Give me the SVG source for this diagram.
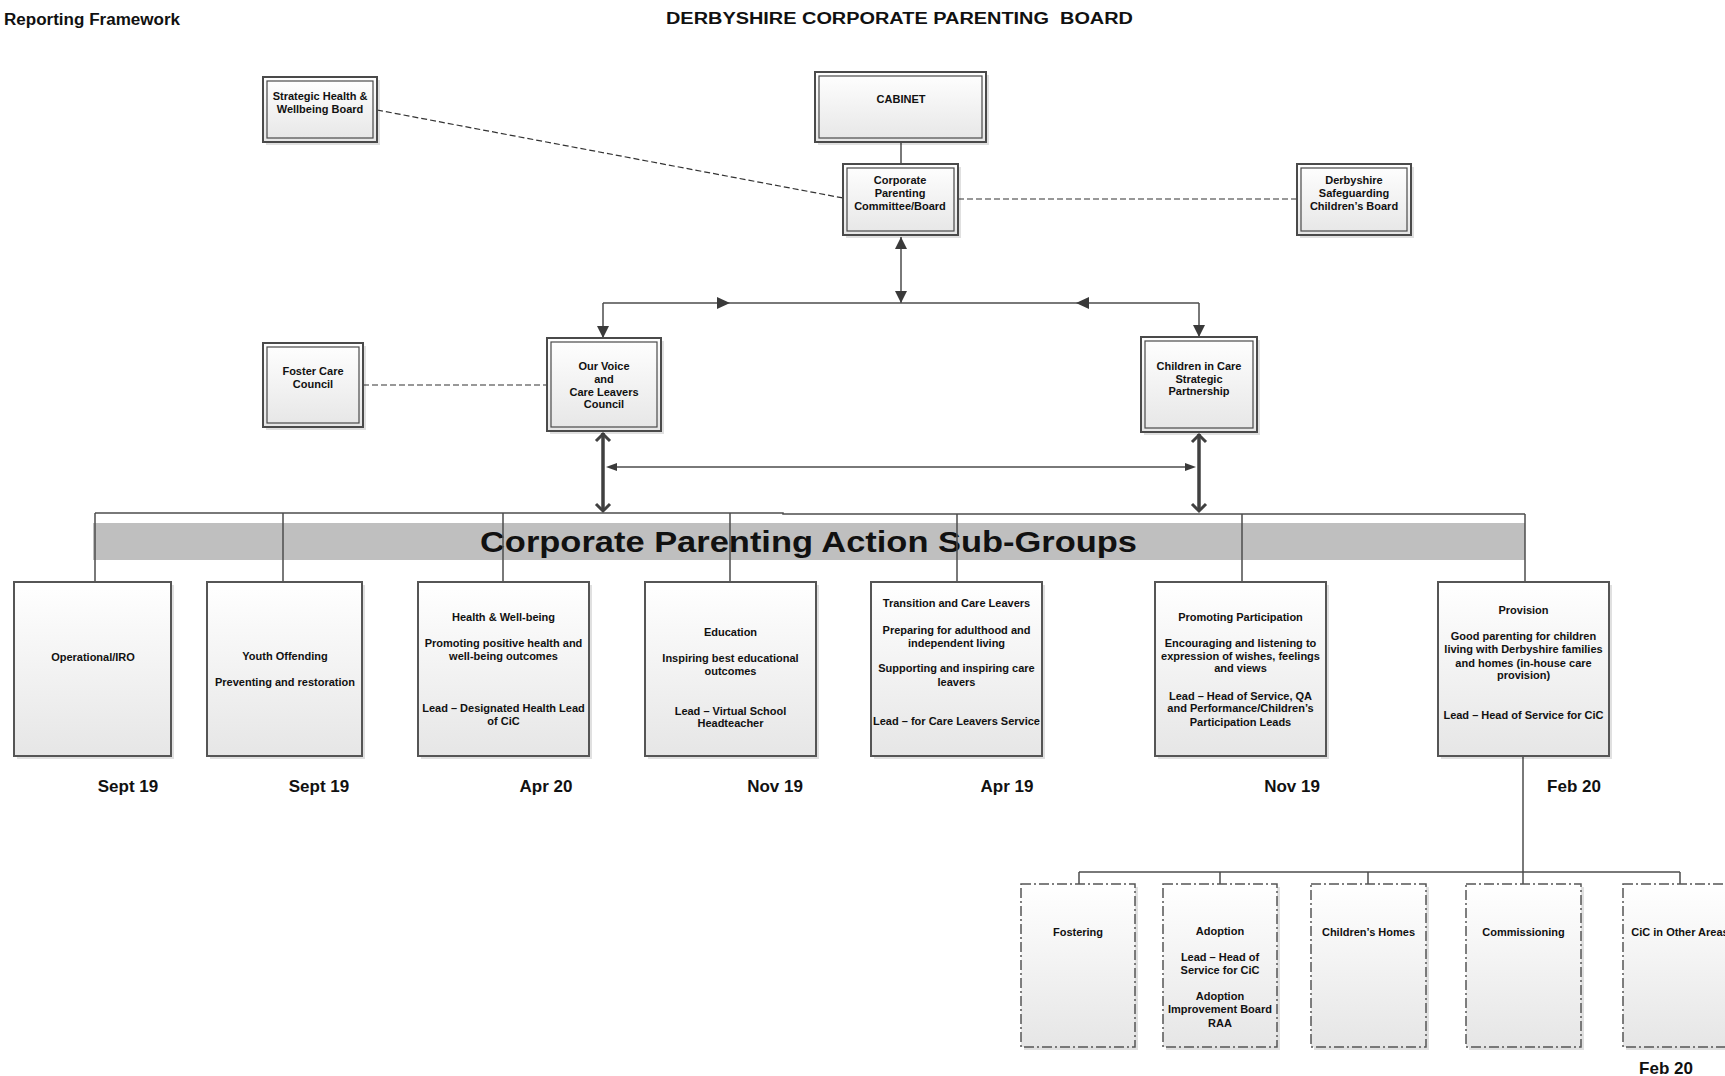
<svg xmlns="http://www.w3.org/2000/svg" width="1725" height="1076" viewBox="0 0 1725 1076">
<style>
.bg{fill:#fff}
.box{fill:url(#grad);stroke:#4a4a4a;stroke-width:2}
.inner{fill:none;stroke:#4a4a4a;stroke-width:1.2}
.shadow{fill:#000;opacity:.12}
.sub{fill:url(#grad);stroke:#555;stroke-width:2}
.dd{fill:url(#grad);stroke:#555;stroke-width:1.5;stroke-dasharray:10 3 2 3}
.t{font-family:"Liberation Sans",Arial,sans-serif;font-weight:bold;font-size:11px;fill:#111;text-anchor:middle}
.date{font-family:"Liberation Sans",Arial,sans-serif;font-weight:bold;font-size:17px;fill:#111;text-anchor:middle}
.hdr{font-family:"Liberation Sans",Arial,sans-serif;font-weight:bold;fill:#111}
.line{stroke:#4d4d4d;stroke-width:1.5;fill:none}
.dash{stroke:#333;stroke-width:1.2;stroke-dasharray:6 3;fill:none}
.thick{stroke:#404040;stroke-width:3.5;fill:none}
.chev{stroke:#404040;stroke-width:3;fill:none;stroke-linejoin:miter}
.ah{fill:#3a3a3a}
</style>
<defs>
<linearGradient id="grad" x1="0" y1="0" x2="0" y2="1">
<stop offset="0" stop-color="#ffffff"/>
<stop offset="1" stop-color="#e6e6e6"/>
</linearGradient>
<marker id="tri" viewBox="0 0 12 12" refX="12" refY="6" markerWidth="12" markerHeight="12" markerUnits="userSpaceOnUse" orient="auto">
<path d="M0,0 L12,6 L0,12 z" fill="#3a3a3a"/>
</marker>
<marker id="triS" viewBox="0 0 12 12" refX="0" refY="6" markerWidth="12" markerHeight="12" markerUnits="userSpaceOnUse" orient="auto">
<path d="M12,0 L0,6 L12,12 z" fill="#3a3a3a"/>
</marker>
</defs>
<rect class="bg" x="0" y="0" width="1725" height="1076"/>

<g id="headers">
<text class="hdr" x="4" y="25" font-size="16" textLength="176" lengthAdjust="spacingAndGlyphs">Reporting Framework</text>
<text class="hdr" x="666" y="24" font-size="16" textLength="467" lengthAdjust="spacingAndGlyphs">DERBYSHIRE CORPORATE PARENTING&#160; BOARD</text>
</g>

<g id="banner">
<rect x="93" y="523" width="1432" height="37" fill="#bfbfbf"/>
<text class="hdr" x="480" y="552" font-size="29" textLength="657" lengthAdjust="spacingAndGlyphs">Corporate Parenting Action Sub-Groups</text>
</g>

<g id="connectors">
<line class="dash" x1="377" y1="110" x2="843" y2="198"/>
<line class="dash" x1="958" y1="199" x2="1297" y2="199"/>
<line class="dash" x1="363" y1="385" x2="547" y2="385"/>
<line class="line" x1="901" y1="142" x2="901" y2="164"/>
<line class="line" x1="901" y1="237" x2="901" y2="303" marker-start="url(#triS)" marker-end="url(#tri)"/>
<line class="line" x1="603" y1="303" x2="1199" y2="303"/>
<polygon class="ah" points="717,297 730,303 717,309"/>
<polygon class="ah" points="1089,297 1076,303 1089,309"/>
<line class="line" x1="603" y1="303" x2="603" y2="338" marker-end="url(#tri)"/>
<line class="line" x1="1199" y1="303" x2="1199" y2="337" marker-end="url(#tri)"/>
<line class="thick" x1="603" y1="433" x2="603" y2="511"/>
<polyline class="chev" points="596,441 603,434 610,441"/>
<polyline class="chev" points="596,504 603,511 610,504"/>
<line class="thick" x1="1199" y1="434" x2="1199" y2="511"/>
<polyline class="chev" points="1192,442 1199,435 1206,442"/>
<polyline class="chev" points="1192,504 1199,511 1206,504"/>
<line class="line" x1="610" y1="467" x2="1193" y2="467"/>
<polygon class="ah" points="606,467 617,463 617,471"/>
<polygon class="ah" points="1196,467 1185,463 1185,471"/>
<polyline class="line" points="95,513 783,513 783,514 1525,514"/>
<line class="line" x1="95" y1="513" x2="95" y2="582"/>
<line class="line" x1="283" y1="513" x2="283" y2="582"/>
<line class="line" x1="503" y1="513" x2="503" y2="582"/>
<line class="line" x1="730" y1="513" x2="730" y2="582"/>
<line class="line" x1="957" y1="514" x2="957" y2="582"/>
<line class="line" x1="1242" y1="514" x2="1242" y2="582"/>
<line class="line" x1="1525" y1="514" x2="1525" y2="582"/>
<line class="line" x1="1523" y1="756" x2="1523" y2="872"/>
<line class="line" x1="1079" y1="872" x2="1680" y2="872"/>
<line class="line" x1="1079" y1="872" x2="1079" y2="884"/>
<line class="line" x1="1220" y1="872" x2="1220" y2="884"/>
<line class="line" x1="1368" y1="872" x2="1368" y2="884"/>
<line class="line" x1="1523" y1="872" x2="1523" y2="884"/>
<line class="line" x1="1680" y1="872" x2="1680" y2="884"/>
</g>

<g id="strategic-health">
<rect class="shadow" x="266" y="80" width="114" height="65"/>
<rect class="box" x="263" y="77" width="114" height="65"/>
<rect class="inner" x="267" y="81" width="106" height="57"/>
<text class="t" x="320" y="100">Strategic Health &amp;</text>
<text class="t" x="320" y="113">Wellbeing Board</text>
</g>

<g id="cabinet">
<rect class="shadow" x="818" y="75" width="171" height="70"/>
<rect class="box" x="815" y="72" width="171" height="70"/>
<rect class="inner" x="819" y="76" width="163" height="62"/>
<text class="t" x="901" y="103">CABINET</text>
</g>

<g id="corporate-parenting">
<rect class="shadow" x="846" y="167" width="115" height="71"/>
<rect class="box" x="843" y="164" width="115" height="71"/>
<rect class="inner" x="847" y="168" width="107" height="63"/>
<text class="t" x="900" y="184">Corporate</text>
<text class="t" x="900" y="197">Parenting</text>
<text class="t" x="900" y="210">Committee/Board</text>
</g>

<g id="dscb">
<rect class="shadow" x="1300" y="167" width="114" height="71"/>
<rect class="box" x="1297" y="164" width="114" height="71"/>
<rect class="inner" x="1301" y="168" width="106" height="63"/>
<text class="t" x="1354" y="184">Derbyshire</text>
<text class="t" x="1354" y="197">Safeguarding</text>
<text class="t" x="1354" y="210">Children’s Board</text>
</g>

<g id="foster-care-council">
<rect class="shadow" x="266" y="346" width="100" height="84"/>
<rect class="box" x="263" y="343" width="100" height="84"/>
<rect class="inner" x="267" y="347" width="92" height="76"/>
<text class="t" x="313" y="375">Foster Care</text>
<text class="t" x="313" y="388">Council</text>
</g>

<g id="our-voice">
<rect class="shadow" x="550" y="341" width="114" height="93"/>
<rect class="box" x="547" y="338" width="114" height="93"/>
<rect class="inner" x="551" y="342" width="106" height="85"/>
<text class="t" x="604" y="370">Our Voice</text>
<text class="t" x="604" y="383">and</text>
<text class="t" x="604" y="396">Care Leavers</text>
<text class="t" x="604" y="408">Council</text>
</g>

<g id="cic-strategic">
<rect class="shadow" x="1144" y="340" width="116" height="95"/>
<rect class="box" x="1141" y="337" width="116" height="95"/>
<rect class="inner" x="1145" y="341" width="108" height="87"/>
<text class="t" x="1199" y="370">Children in Care</text>
<text class="t" x="1199" y="383">Strategic</text>
<text class="t" x="1199" y="395">Partnership</text>
</g>

<g id="operational">
<rect class="shadow" x="17" y="585" width="157" height="174"/>
<rect class="sub" x="14" y="582" width="157" height="174"/>
<text class="t" x="93" y="661">Operational/IRO</text>
</g>

<g id="youth-offending">
<rect class="shadow" x="210" y="585" width="155" height="174"/>
<rect class="sub" x="207" y="582" width="155" height="174"/>
<text class="t" x="285" y="660">Youth Offending</text>
<text class="t" x="285" y="686">Preventing and restoration</text>
</g>

<g id="health">
<rect class="shadow" x="421" y="585" width="171" height="174"/>
<rect class="sub" x="418" y="582" width="171" height="174"/>
<text class="t" x="503.5" y="621">Health &amp; Well-being</text>
<text class="t" x="503.5" y="647">Promoting positive health and</text>
<text class="t" x="503.5" y="660">well-being outcomes</text>
<text class="t" x="503.5" y="712">Lead – Designated Health Lead</text>
<text class="t" x="503.5" y="725">of CiC</text>
</g>

<g id="education">
<rect class="shadow" x="648" y="585" width="171" height="174"/>
<rect class="sub" x="645" y="582" width="171" height="174"/>
<text class="t" x="730.5" y="636">Education</text>
<text class="t" x="730.5" y="662">Inspiring best educational</text>
<text class="t" x="730.5" y="675">outcomes</text>
<text class="t" x="730.5" y="715">Lead – Virtual School</text>
<text class="t" x="730.5" y="727">Headteacher</text>
</g>

<g id="transition">
<rect class="shadow" x="874" y="585" width="171" height="174"/>
<rect class="sub" x="871" y="582" width="171" height="174"/>
<text class="t" x="956.5" y="607">Transition and Care Leavers</text>
<text class="t" x="956.5" y="634">Preparing for adulthood and</text>
<text class="t" x="956.5" y="647">independent living</text>
<text class="t" x="956.5" y="672">Supporting and inspiring care</text>
<text class="t" x="956.5" y="686">leavers</text>
<text class="t" x="956.5" y="725">Lead – for Care Leavers Service</text>
</g>

<g id="promoting-participation">
<rect class="shadow" x="1158" y="585" width="171" height="174"/>
<rect class="sub" x="1155" y="582" width="171" height="174"/>
<text class="t" x="1240.5" y="621">Promoting Participation</text>
<text class="t" x="1240.5" y="647">Encouraging and listening to</text>
<text class="t" x="1240.5" y="660">expression of wishes, feelings</text>
<text class="t" x="1240.5" y="672">and views</text>
<text class="t" x="1240.5" y="700">Lead – Head of Service, QA</text>
<text class="t" x="1240.5" y="712">and Performance/Children’s</text>
<text class="t" x="1240.5" y="726">Participation Leads</text>
</g>

<g id="provision">
<rect class="shadow" x="1441" y="585" width="171" height="174"/>
<rect class="sub" x="1438" y="582" width="171" height="174"/>
<text class="t" x="1523.5" y="614">Provision</text>
<text class="t" x="1523.5" y="640">Good parenting for children</text>
<text class="t" x="1523.5" y="653">living with Derbyshire families</text>
<text class="t" x="1523.5" y="667">and homes (in-house care</text>
<text class="t" x="1523.5" y="679">provision)</text>
<text class="t" x="1523.5" y="719">Lead – Head of Service for CiC</text>
</g>

<g id="dates">
<text class="date" x="128" y="792">Sept 19</text>
<text class="date" x="319" y="792">Sept 19</text>
<text class="date" x="546" y="792">Apr 20</text>
<text class="date" x="775" y="792">Nov 19</text>
<text class="date" x="1007" y="792">Apr 19</text>
<text class="date" x="1292" y="792">Nov 19</text>
<text class="date" x="1574" y="792">Feb 20</text>
<text class="date" x="1666" y="1074">Feb 20</text>
</g>

<g id="fostering">
<rect class="shadow" x="1024" y="887" width="114" height="163"/>
<rect class="dd" x="1021" y="884" width="114" height="163"/>
<text class="t" x="1078" y="936">Fostering</text>
</g>

<g id="adoption">
<rect class="shadow" x="1166" y="887" width="114" height="163"/>
<rect class="dd" x="1163" y="884" width="114" height="163"/>
<text class="t" x="1220" y="935">Adoption</text>
<text class="t" x="1220" y="961">Lead – Head of</text>
<text class="t" x="1220" y="974">Service for CiC</text>
<text class="t" x="1220" y="1000">Adoption</text>
<text class="t" x="1220" y="1013">Improvement Board</text>
<text class="t" x="1220" y="1027">RAA</text>
</g>

<g id="childrens-homes">
<rect class="shadow" x="1314" y="887" width="115" height="163"/>
<rect class="dd" x="1311" y="884" width="115" height="163"/>
<text class="t" x="1368.5" y="936">Children’s Homes</text>
</g>

<g id="commissioning">
<rect class="shadow" x="1469" y="887" width="115" height="163"/>
<rect class="dd" x="1466" y="884" width="115" height="163"/>
<text class="t" x="1523.5" y="936">Commissioning</text>
</g>

<g id="cic-other-areas">
<rect class="shadow" x="1626" y="887" width="114" height="163"/>
<rect class="dd" x="1623" y="884" width="114" height="163"/>
<text class="t" x="1680" y="936">CiC in Other Areas</text>
</g>
</svg>
